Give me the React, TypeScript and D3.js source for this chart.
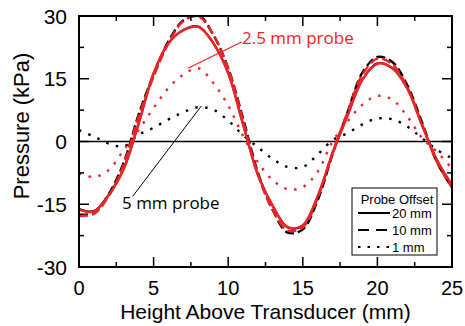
import React from "react";
import * as d3 from "d3";

const xs = [0,1,2,3,4,5,6,7,8,9,10,11,12,13,14,15,16,17,18,19,20,21,22,23,24,25];
const red20 = [-16.3,-16.7,-12.8,-6.5,4.3,16.3,23.5,26.6,27.4,23.5,16.3,4,-8,-15.5,-20.5,-20,-13,-2.8,6.2,14.8,18.6,17.5,12.7,3.8,-4.5,-10.4];
const red10 = [-17.8,-17.3,-13,-5.5,6,15.5,23.5,28.8,29.9,25.5,17.5,5,-8,-16.5,-21.3,-20.5,-13.5,-2.5,7,16,19.8,18.5,13,4,-5,-11];
const red1 = [-7.6,-8.5,-6.8,-2,2.8,8,12.8,16,17.5,14,8.6,1.3,-5,-9.3,-11.4,-10.9,-7.2,0,4.8,8.8,10.9,10,6,0.8,-2.5,-6.5];
const blk20 = [-16.1,-16.6,-12.7,-6.5,4.4,16.3,23.5,26.7,27.5,23.6,16.4,4.1,-8,-15.5,-20.6,-20.1,-13.1,-2.8,6.3,14.9,18.7,17.6,12.8,3.9,-4.5,-10.4];
const blk10 = [-17.5,-17,-12.5,-5,6.5,16,24,29,30.2,25.5,17.5,5.5,-7.5,-16.5,-21.8,-21,-14,-3,7,16.5,20.2,19,13.5,4.5,-5,-11];
const blk1 = [2.7,1.2,-0.5,-1.2,1.6,3.3,5.3,7,8.2,7.6,5,1.5,-1.4,-4.2,-6.1,-6.1,-3.1,0.3,2,4.1,5.5,5.3,3.6,0.8,-2,-4];

const xTicks = [0,5,10,15,20,25];
const xMinor = [2.5,7.5,12.5,17.5,22.5];
const yTicks = [-30,-15,0,15,30];
const yMinor = [-22.5,-7.5,7.5,22.5];
const legendLabels = ["20 mm","10 mm","1 mm"];

const RED = "#ec2328";
const W = 465, H = 326;
const L = 79, R = 452, T = 16, B = 267;
const FONT = "'Liberation Sans', Arial, sans-serif";
const AFONT = "'Open Sans', 'Noto Sans', sans-serif";

export default function App() {
  const x = d3.scaleLinear().domain([0, 25]).range([L, R]);
  const y = d3.scaleLinear().domain([-30, 30]).range([B, T]);
  const line = (vals: number[]) =>
    d3.line<number>().x((_, i) => x(xs[i])).y((d) => y(d)).curve(d3.curveCatmullRom.alpha(0.5))(vals) || "";

  const DOT = "2.5 7.5";
  const DASH = "9 4";
  const series = [
    { v: blk1, c: "#000", dash: DOT, w: 2.4 },
    { v: red1, c: RED, dash: DOT, w: 2.4 },
    { v: blk20, c: "#000", dash: "", w: 2 },
    { v: blk10, c: "#000", dash: DASH, w: 2.4 },
    { v: red10, c: RED, dash: DASH, w: 2.4 },
    { v: red20, c: RED, dash: "", w: 2.5 },
  ];

  return (
    <svg width={W} height={H} style={{ position: "absolute", left: 0, top: 0, background: "#fff" }}>
      <defs>
        <clipPath id="plot">
          <rect x={L} y={T} width={R - L} height={B - T} />
        </clipPath>
      </defs>
      {/* zero line */}
      <line x1={L} x2={R} y1={y(0)} y2={y(0)} stroke="#000" strokeWidth={1.6} />
      <g clipPath="url(#plot)">
        {series.map((s, i) => (
          <path key={i} d={line(s.v)} fill="none" stroke={s.c} strokeWidth={s.w} strokeDasharray={s.dash || undefined} />
        ))}
      </g>
      {/* annotations */}
      <line x1={x(7.3)} y1={y(17.5)} x2={x(10.9)} y2={y(23.8)} stroke={RED} strokeWidth={1.2} />
      <text x={242} y={44} fill={RED} fontFamily={AFONT} fontSize={17}>2.5 mm probe</text>
      <line x1={x(8.2)} y1={y(8.5)} x2={x(3.6)} y2={y(-13.1)} stroke="#000" strokeWidth={1} />
      <text x={122} y={209} fill="#000" fontFamily={AFONT} fontSize={17}>5 mm probe</text>

      {/* frame */}
      <rect x={L} y={T} width={R - L} height={B - T} fill="none" stroke="#000" strokeWidth={2} />
      {/* ticks */}
      {xTicks.map((t) => (
        <g key={"xt" + t}>
          <line x1={x(t)} x2={x(t)} y1={B} y2={B - 10} stroke="#000" strokeWidth={1.5} />
          <line x1={x(t)} x2={x(t)} y1={T} y2={T + 10} stroke="#000" strokeWidth={1.5} />
          <text x={x(t)} y={295} textAnchor="middle" fontFamily={FONT} fontSize={20}>{t}</text>
        </g>
      ))}
      {xMinor.map((t) => (
        <g key={"xm" + t}>
          <line x1={x(t)} x2={x(t)} y1={B} y2={B - 5} stroke="#000" strokeWidth={1.5} />
          <line x1={x(t)} x2={x(t)} y1={T} y2={T + 5} stroke="#000" strokeWidth={1.5} />
        </g>
      ))}
      {yTicks.map((t) => (
        <g key={"yt" + t}>
          <line x1={L} x2={L + 10} y1={y(t)} y2={y(t)} stroke="#000" strokeWidth={1.5} />
          <line x1={R} x2={R - 10} y1={y(t)} y2={y(t)} stroke="#000" strokeWidth={1.5} />
          <text x={67} y={y(t) + 7.5} textAnchor="end" fontFamily={FONT} fontSize={21}>{t}</text>
        </g>
      ))}
      {yMinor.map((t) => (
        <g key={"ym" + t}>
          <line x1={L} x2={L + 5} y1={y(t)} y2={y(t)} stroke="#000" strokeWidth={1.5} />
          <line x1={R} x2={R - 5} y1={y(t)} y2={y(t)} stroke="#000" strokeWidth={1.5} />
        </g>
      ))}
      {/* axis labels */}
      <text x={(L + R) / 2} y={319} textAnchor="middle" fontFamily={FONT} fontSize={21}>Height Above Transducer (mm)</text>
      <text transform={`translate(29,126) rotate(-90)`} textAnchor="middle" fontFamily={FONT} fontSize={22}>Pressure (kPa)</text>

      {/* legend */}
      <rect x={352} y={188} width={85} height={67} fill="#fff" stroke="#000" strokeWidth={1} />
      <text x={397} y={204} textAnchor="middle" fontFamily={FONT} fontSize={13}>Probe Offset</text>
      {legendLabels.map((lab, i) => {
        const ly = 213 + i * 17;
        const dash = i === 0 ? undefined : i === 1 ? "11 7" : "2.5 7";
        return (
          <g key={lab}>
            <line x1={358} x2={390} y1={ly} y2={ly} stroke="#000" strokeWidth={2} strokeDasharray={dash} />
            <text x={392} y={ly + 4.5} fontFamily={FONT} fontSize={13}>{lab}</text>
          </g>
        );
      })}
    </svg>
  );
}
